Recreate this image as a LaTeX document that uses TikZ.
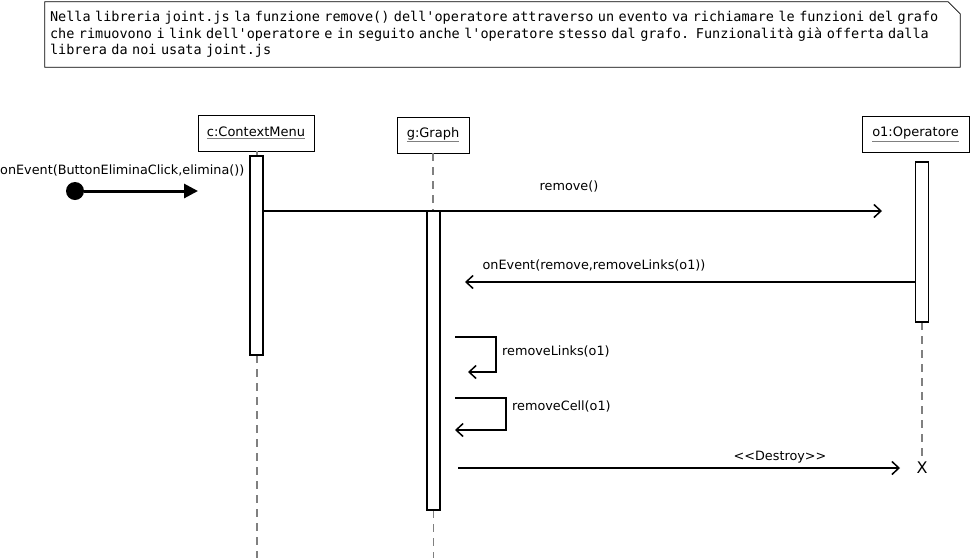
\documentclass[tikz,border=0pt]{standalone}
\usepackage{fontspec}
\setmainfont{DejaVu Sans}
\setmonofont{DejaVu Sans Mono}
\usepackage{xcolor}
\usetikzlibrary{arrows.meta,positioning,calc}
\newcommand{\objname}[1]{{\color{gray}\underline{\color{black}#1}}}

\begin{document}
\begin{tikzpicture}[x=1pt,y=-1pt,
  notebox/.style={minimum width=915pt,minimum height=65pt,text width=905pt,inner xsep=5pt,
    align=left,font=\ttfamily\fontsize{13.5}{16.5}\selectfont},
  lifehead/.style={draw,fill=white,line width=0.8pt,minimum height=36pt,inner xsep=6pt,
    font=\fontsize{13}{15}\selectfont},
  actbar/.style={draw,fill=white,line width=1.6pt,minimum width=13pt,inner sep=0pt},
  lifeline/.style={gray,line width=1.3pt,dash pattern=on 8pt off 6pt},
  msgarr/.style={-{Straight Barb[length=7pt,width=13pt]},line width=1.5pt},
  foundarr/.style={-{Triangle[length=14pt,width=14pt]},line width=3pt},
  msglabel/.style={font=\fontsize{12.8}{15}\selectfont,inner sep=1pt}
]
  \useasboundingbox (0,0) rectangle (971,558);
  % Note
  \node[notebox] (note) at (502.5,34.5) {
    Nella libreria joint.js la funzione remove() dell'operatore attraverso un evento va richiamare le funzioni del grafo\\
    che rimuovono i link dell'operatore e in seguito anche l'operatore stesso dal grafo. Funzionalità già offerta dalla\\
    librera da noi usata joint.js};
  \draw[line width=0.8pt] (note.south west) -- (note.north west) -- ([xshift=-12pt]note.north east)
    -- ([yshift=-12pt]note.north east) -- (note.south east) -- cycle;
  % Lifeline heads
  \node[lifehead,minimum width=116pt] (ctx) at (256,133) {\objname{c:ContextMenu}};
  \node[lifehead,minimum width=72pt] (graph) at (433,135) {\objname{g:Graph}};
  \node[lifehead,minimum width=107pt] (oper) at (915.5,134.5) {\objname{o1:Operatore}};
  % Lifelines
  \coordinate (ctx-end) at (257,558);
  \coordinate (graph-end) at (433.5,558);
  \coordinate (oper-end) at (922,458);
  \draw[lifeline] (ctx.south -| 257,0) -- (257,156);
  \draw[lifeline] (257,355) -- (ctx-end);
  \draw[lifeline] (graph.south) -- (433,211);
  \draw[lifeline] (433.5,510) -- (graph-end);
  \draw[lifeline] (922,322) -- (oper-end);
  % Activation bars
  \node[actbar,minimum height=199pt] (ctxbar) at (256.5,255.5) {};
  \node[actbar,minimum height=299pt] (graphbar) at (433.5,360.5) {};
  \node[actbar,minimum height=160pt] (operbar) at (922,242) {};
  % Found message
  \node[circle,fill,inner sep=0pt,minimum size=18pt] (found) at (75,191) {};
  \coordinate (found-e) at (198,191);
  \draw[foundarr] (found) -- (found-e);
  \node[msglabel,anchor=west] (lbl-found) at (-1,170) {onEvent(ButtonEliminaClick,elimina())};
  % remove()
  \coordinate (rm-s) at (262,211);
  \coordinate (rm-e) at (882,211);
  \draw[msgarr] (rm-s) -- (rm-e);
  \node[msglabel] (lbl-rm) at (569,186) {remove()};
  % onEvent(remove,...)
  \coordinate (ev-s) at (915,282);
  \coordinate (ev-e) at (465,282);
  \draw[msgarr] (ev-s) -- (ev-e);
  \node[msglabel] (lbl-ev) at (594,265) {onEvent(remove,removeLinks(o1))};
  % removeLinks(o1)
  \coordinate (rl-s) at (455,337);
  \coordinate (rl-e) at (468,372);
  \draw[msgarr] (rl-s) -- ++(41,0) |- (rl-e);
  \node[msglabel,anchor=west] (lbl-rl) at (501,351) {removeLinks(o1)};
  % removeCell(o1)
  \coordinate (rc-s) at (455,398);
  \coordinate (rc-e) at (455,430);
  \draw[msgarr] (rc-s) -- ++(51,0) |- (rc-e);
  \node[msglabel,anchor=west] (lbl-rc) at (511,406) {removeCell(o1)};
  % Destroy
  \node[font=\fontsize{16}{16}\selectfont,inner sep=1pt] (destroy) at (922,468) {X};
  \coordinate (ds-s) at (458,468);
  \coordinate (ds-e) at (900,468);
  \draw[msgarr] (ds-s) -- (ds-e);
  \node[msglabel] (lbl-ds) at (780,457) {<\kern0pt<Destroy>\kern0pt>};
\end{tikzpicture}
\end{document}
